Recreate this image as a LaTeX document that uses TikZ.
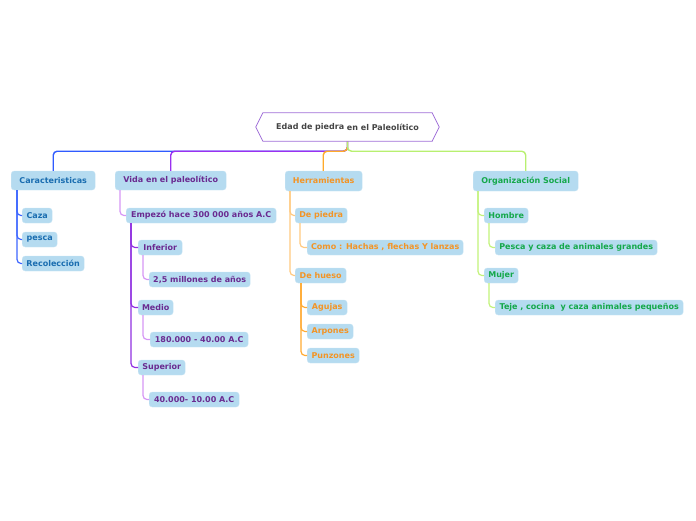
\documentclass[tikz,border=0pt]{standalone}
\usepackage{fontspec}
\setmainfont{DejaVu Sans}
\usetikzlibrary{calc}
\definecolor{nodefill}{HTML}{B5DBF0}
\definecolor{tblue}{HTML}{1A6DB0}
\definecolor{tpurple}{HTML}{6A2A90}
\definecolor{torange}{HTML}{F39425}
\definecolor{tgreen}{HTML}{14A84A}
\definecolor{troot}{HTML}{444444}
\definecolor{lblue}{HTML}{2F5BFF}
\definecolor{lpurple}{HTML}{9A30F0}
\definecolor{lorange}{HTML}{FFAA2A}
\definecolor{lgreen}{HTML}{B8F070}
\definecolor{lblue2}{HTML}{3D66FF}
\definecolor{lpurple2}{HTML}{D596F5}
\definecolor{dpurple}{HTML}{9030E0}
\definecolor{lorange2}{HTML}{FFC980}
\definecolor{dorange}{HTML}{FFAA33}
\definecolor{lgreen2}{HTML}{C2F27A}
\definecolor{hexline}{HTML}{A070D8}
\tikzset{
  box/.style={fill=nodefill, draw=nodefill!70!white, rounded corners=3pt, anchor=west,
    font=\fontsize{8}{9}\selectfont\bfseries, inner sep=0pt, align=center},
  conn/.style={line width=1.4pt, rounded corners=4pt},
  subconn/.style={line width=1.2pt, rounded corners=4pt},
}
\begin{document}
\begin{tikzpicture}[x=1pt,y=-1pt]
\useasboundingbox (0,0) rectangle (696,520);
% root
\node[minimum width=183pt, minimum height=28pt, inner sep=0pt] (root) at (347.5,127) {};
% level 1
\node[box, text=tblue, minimum width=84pt, minimum height=19pt] (car) at (11,180.5) {Caracteristicas};
\node[box, text=tpurple, minimum width=111pt, minimum height=19pt] (vida) at (115,180.5) {Vida en el paleolítico};
\node[box, text=torange, minimum width=77pt, minimum height=20pt] (herr) at (285,181) {Herramientas};
\node[box, text=tgreen, minimum width=105pt, minimum height=20pt] (org) at (473,181) {Organización Social};
% Caracteristicas children
\node[box, text=tblue, minimum width=30pt, minimum height=15pt] (caza) at (22,215.5) {Caza};
\node[box, text=tblue, minimum width=35pt, minimum height=15pt] (pesca) at (22,239.5) {pesca};
\node[box, text=tblue, minimum width=62pt, minimum height=15pt] (reco) at (22,263.5) {Recolección};
% Vida
\node[box, text=tpurple, minimum width=150pt, minimum height=15pt] (emp) at (126,215.5) {Empezó hace 300 000 años A.C};
\node[box, text=tpurple, minimum width=44pt, minimum height=15pt] (inf) at (138,247.5) {Inferior};
\node[box, text=tpurple, minimum width=35pt, minimum height=15pt] (med) at (138,307.5) {Medio};
\node[box, text=tpurple, minimum width=47pt, minimum height=15pt] (sup) at (138,367.5) {Superior};
\node[box, text=tpurple, minimum width=101pt, minimum height=15pt] (infa) at (149,279.5) {2,5 millones de años};
\node[box, text=tpurple, minimum width=98pt, minimum height=15pt] (meda) at (150,339.5) {180.000 - 40.00 A.C};
\node[box, text=tpurple, minimum width=90pt, minimum height=15pt] (supa) at (149,399.5) {40.000- 10.00 A.C};
% Herramientas
\node[box, text=torange, minimum width=52pt, minimum height=15pt] (piedra) at (295,215.5) {De piedra};
\node[box, text=torange, minimum width=51pt, minimum height=15pt] (hueso) at (295,275.5) {De hueso};
\node[box, text=torange, minimum width=156pt, minimum height=15pt] (como) at (307,247.5) {Como : Hachas , flechas Y lanzas};
\node[box, text=torange, minimum width=40pt, minimum height=15pt] (agu) at (307,307.5) {Agujas};
\node[box, text=torange, minimum width=46pt, minimum height=15pt] (arp) at (307,331.5) {Arpones};
\node[box, text=torange, minimum width=52pt, minimum height=15pt] (pun) at (307,355.5) {Punzones};
% Organizacion
\node[box, text=tgreen, minimum width=44pt, minimum height=15pt] (hom) at (484,215.5) {Hombre};
\node[box, text=tgreen, minimum width=34pt, minimum height=15pt] (muj) at (484,275.5) {Mujer};
\node[box, text=tgreen, minimum width=162pt, minimum height=15pt] (homa) at (495,247.5) {Pesca y caza de animales grandes};
\node[box, text=tgreen, minimum width=188pt, minimum height=15pt] (muja) at (495,307.5) {Teje , cocina\ \ y caza animales pequeños};
% top connectors
\draw[conn, lblue] (root.south) -- ++(0,10) -| (car.north);
\draw[conn, lpurple] (root.south) -- ++(0,10) -| (vida.north);
\draw[conn, lorange] (root.south) -- ++(0,10) -| ([xshift=-0.5pt]herr.north);
\draw[conn, lgreen] (root.south) -- ++(0,10) -| (org.north);
% hexagon
\draw[hexline, line width=0.8pt, fill=white] (root.west) -- ([xshift=7pt]root.north west) -- ([xshift=-7pt]root.north east) -- (root.east) -- ([xshift=-7pt]root.south east) -- ([xshift=7pt]root.south west) -- cycle;
\node[font=\fontsize{8}{9}\selectfont\bfseries, text=troot, inner sep=0pt] (roottext) at (root.center) {\raisebox{1.2pt}{Edad de piedra} en el Paleolítico};
% level-2 connectors
\foreach \c in {caza,pesca,reco}
  \draw[subconn, lblue2] ([xshift=6pt]car.south west) |- (\c.west);
\draw[subconn, lpurple2] ([xshift=5pt]vida.south west) |- (emp.west);
\foreach \c in {inf,med,sup}
  \draw[subconn, dpurple] ([xshift=5pt]emp.south west) |- (\c.west);
\draw[subconn, lpurple2] ([xshift=5pt]inf.south west) |- (infa.west);
\draw[subconn, lpurple2] ([xshift=5pt]med.south west) |- (meda.west);
\draw[subconn, lpurple2] ([xshift=5pt]sup.south west) |- (supa.west);
\foreach \c in {piedra,hueso}
  \draw[subconn, lorange2] ([xshift=5pt]herr.south west) |- (\c.west);
\draw[subconn, lorange2] ([xshift=5pt]piedra.south west) |- (como.west);
\foreach \c in {agu,arp,pun}
  \draw[subconn, dorange] ([xshift=6pt]hueso.south west) |- (\c.west);
\foreach \c in {hom,muj}
  \draw[subconn, lgreen2] ([xshift=5pt]org.south west) |- (\c.west);
\draw[subconn, lgreen2] ([xshift=5pt]hom.south west) |- (homa.west);
\draw[subconn, lgreen2] ([xshift=5pt]muj.south west) |- (muja.west);
\end{tikzpicture}
\end{document}
